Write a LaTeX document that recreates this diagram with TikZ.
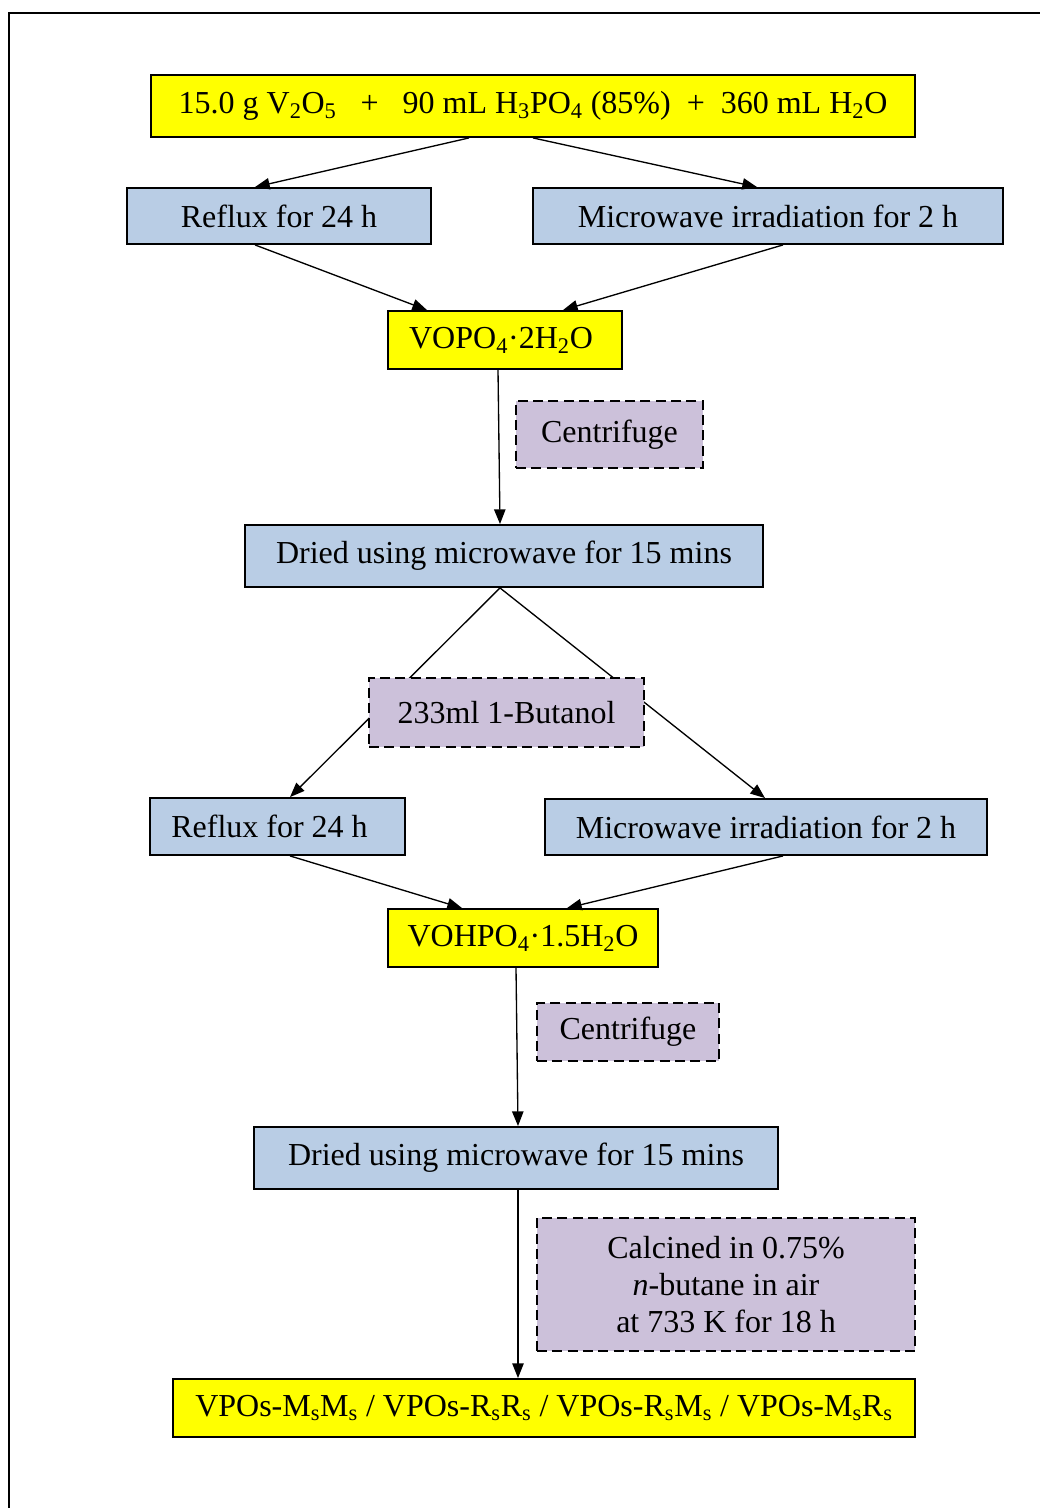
\documentclass[tikz,border=0pt]{standalone}
\usepackage{fontspec}
\setmainfont{Liberation Serif}
\usetikzlibrary{arrows.meta}
\definecolor{yel}{HTML}{FFFF00}
\definecolor{lblue}{HTML}{B9CDE5}
\definecolor{lav}{HTML}{CCC1DA}
\newcommand{\sbs}[1]{\textsubscript{#1}}
\tikzset{
  box/.style={draw=black, line width=1.4pt, rectangle, inner sep=0pt, align=center,
     font=\fontsize{24}{27.75}\selectfont},
  ybox/.style={box, fill=yel},
  bbox/.style={box, fill=lblue},
  dbox/.style={box, fill=lav, dashed, dash pattern=on 7.5pt off 4pt},
  conn/.style={line width=1pt, -{Triangle[length=11pt,width=8.5pt]}},
  plain/.style={line width=1pt}
}
\begin{document}
\begin{tikzpicture}[x=0.75pt,y=-0.75pt]
\useasboundingbox (0,0) rectangle (1040,1508);
\draw[line width=1.4pt] (9,1508) -- (9,13) -- (1040,13);

\node[ybox, minimum width=573pt, minimum height=46.5pt] (top) at (533,106)
  {15.0 g V\sbs{2}O\sbs{5}\ \ \ +\ \ \ 90 mL H\sbs{3}PO\sbs{4} (85\%)\ \ +\ \ 360 mL H\sbs{2}O};
\node[bbox, minimum width=228pt, minimum height=42pt] (ref1) at (279,216) {Reflux for 24 h};
\node[bbox, minimum width=352.5pt, minimum height=42pt] (mic1) at (768,216) {Microwave irradiation for 2 h};
\node[ybox, minimum width=175.5pt, minimum height=43.5pt] (vopo) at (505,340) {\hspace*{-6pt}VOPO\sbs{4}·2H\sbs{2}O};
\node[dbox, minimum width=140.25pt, minimum height=50.25pt] (cen1) at (609.5,434.5) {Centrifuge};
\node[bbox, minimum width=388.5pt, minimum height=46.5pt] (dry1) at (504,556) {Dried using microwave for 15 mins};
\node[bbox, minimum width=191.25pt, minimum height=42.75pt] (ref2) at (277.5,826.5) {\hspace*{-12pt}Reflux for 24 h};
\node[bbox, minimum width=331.5pt, minimum height=42pt] (mic2) at (766,827) {Microwave irradiation for 2 h};
\node[ybox, minimum width=202.5pt, minimum height=43.5pt] (vohp) at (523,938) {VOHPO\sbs{4}·1.5H\sbs{2}O};
\node[dbox, minimum width=136.5pt, minimum height=43.5pt] (cen2) at (628,1032) {Centrifuge};
\node[bbox, minimum width=393pt, minimum height=46.5pt] (dry2) at (516,1158) {Dried using microwave for 15 mins};
\node[dbox, minimum width=283.5pt, minimum height=99.75pt] (calc) at (726,1284.5)
  {Calcined in 0.75\%\\\textit{n}-butane in air\\at 733 K for 18 h};
\node[ybox, minimum width=556.5pt, minimum height=43.5pt] (fin) at (544,1408)
  {VPOs-M\sbs{s}M\sbs{s} / VPOs-R\sbs{s}R\sbs{s} / VPOs-R\sbs{s}M\sbs{s} / VPOs-M\sbs{s}R\sbs{s}};

\draw[conn] ([xshift=-48pt]top.south) -- ([xshift=-18pt]ref1.north);
\draw[conn] (top.south) -- ([xshift=-8.25pt]mic1.north);
\draw[conn] ([xshift=-18pt]ref1.south) -- ([xshift=-58.5pt]vopo.north);
\draw[conn] ([xshift=11.25pt]mic1.south) -- ([xshift=43.5pt]vopo.north);
\draw[conn] ([xshift=-5.25pt]vopo.south) -- ([xshift=-3pt]dry1.north);
\draw[conn] ([xshift=-3pt]dry1.south) -- ([xshift=9.4pt]ref2.north);
\draw[conn] ([xshift=-3pt]dry1.south) -- ([xshift=-0.75pt]mic2.north);
\draw[conn] ([xshift=9.4pt]ref2.south) -- ([xshift=-45.75pt]vohp.north);
\draw[conn] ([xshift=12.75pt]mic2.south) -- ([xshift=33pt]vohp.north);
\draw[conn] ([xshift=-5.25pt]vohp.south) -- ([xshift=1.5pt]dry2.north);
\draw[conn] ([xshift=1.5pt]dry2.south) -- ([xshift=-19.5pt]fin.north);

\node[dbox, minimum width=206.25pt, minimum height=51.75pt] (buta) at (506.5,712.5) {233ml 1-Butanol};
\end{tikzpicture}
\end{document}
